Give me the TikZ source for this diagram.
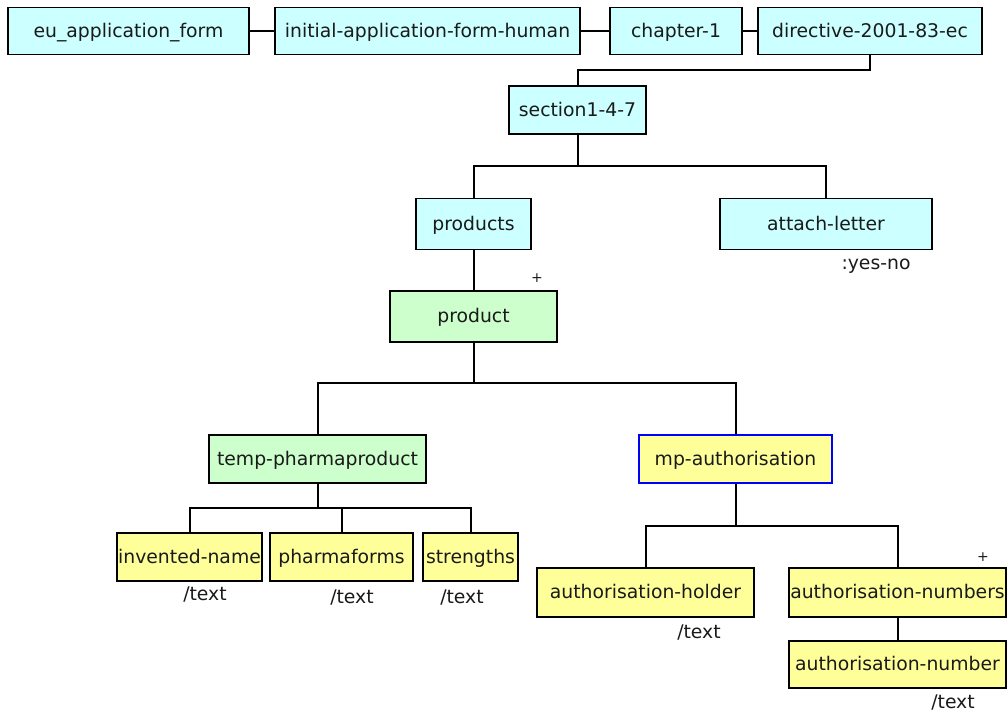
\documentclass[tikz,border=0pt]{standalone}
\usepackage{fontspec}
\setmainfont{DejaVu Sans}
\definecolor{boxcyan}{HTML}{CCFFFF}
\definecolor{boxgreen}{HTML}{CCFFCC}
\definecolor{boxyellow}{HTML}{FFFF99}
\definecolor{ink}{HTML}{1A1A1A}
\begin{document}
\begin{tikzpicture}[x=1pt,y=-1pt,
  every node/.style={font=\fontsize{18.8}{22}\selectfont, text=ink},
  elem/.style={draw=black, line width=1.8pt, inner sep=0pt, align=center,
    text height=16pt, text depth=4pt},
  cyanbox/.style={elem, fill=boxcyan},
  greenbox/.style={elem, fill=boxgreen},
  yellowbox/.style={elem, fill=boxyellow},
  chosenbox/.style={elem, fill=boxyellow, draw=blue, line width=1.5pt},
  link/.style={draw=black, line width=2pt},
  typelabel/.style={inner sep=0pt},
  repeatmark/.style={inner sep=0pt, font=\fontsize{14}{15}\selectfont}]
\useasboundingbox (0,0) rectangle (1008,716);

% junction points of the tree
\coordinate (j0) at (870,70);
\coordinate (j1) at (577.5,166);
\coordinate (j2) at (473.5,383);
\coordinate (j3) at (317.5,508);
\coordinate (j4) at (735.5,526);

% top row of the path
\node[cyanbox, minimum width=241pt, minimum height=47pt] (eu) at (128.5,31) {eu\_application\_form};
\node[cyanbox, minimum width=305pt, minimum height=47pt] (initial) at (427.5,31) {initial-application-form-human};
\node[cyanbox, minimum width=132pt, minimum height=47pt] (chapter) at (676,31) {chapter-1};
\node[cyanbox, minimum width=224pt, minimum height=47pt] (directive) at (870,31) {directive-2001-83-ec};

% section level
\node[cyanbox, minimum width=137pt, minimum height=48pt] (section) at (577.5,110) {section1-4-7};
\node[cyanbox, minimum width=115pt, minimum height=51pt] (products) at (473.5,224) {products};
\node[cyanbox, minimum width=212pt, minimum height=51pt] (attach) at (826,224) {attach-letter};
\node[typelabel] (attachtype) at (876,266) {:yes-no};

% product
\node[greenbox, minimum width=167pt, minimum height=51pt] (product) at (473.5,316.5) {product};
\node[repeatmark] (productplus) at (537,278) {+};

% children of product
\node[greenbox, minimum width=217pt, minimum height=48pt] (temp) at (317.5,459) {temp-pharmaproduct};
\node[chosenbox, minimum width=193pt, minimum height=48pt] (mp) at (735.5,459) {mp-authorisation};

% leaves of temp-pharmaproduct
\node[yellowbox, minimum width=145pt, minimum height=48pt] (invented) at (189.5,557) {invented-name};
\node[yellowbox, minimum width=143pt, minimum height=48pt] (pharmaforms) at (341.5,557) {pharmaforms};
\node[yellowbox, minimum width=95pt, minimum height=48pt] (strengths) at (470.5,557) {strengths};
\node[typelabel] (inventedtype) at (205,595) {/text};
\node[typelabel] (pharmaformstype) at (352,598) {/text};
\node[typelabel] (strengthstype) at (462,598) {/text};

% children of mp-authorisation
\node[yellowbox, minimum width=217pt, minimum height=49pt] (holder) at (645.5,592.5) {authorisation-holder};
\node[yellowbox, minimum width=217pt, minimum height=49pt] (numbers) at (897.5,592.5) {authorisation-numbers};
\node[yellowbox, minimum width=217pt, minimum height=47pt] (number) at (897.5,664.5) {authorisation-number};
\node[repeatmark] (numbersplus) at (983,557) {+};
\node[typelabel] (holdertype) at (699,633) {/text};
\node[typelabel] (numbertype) at (953,703) {/text};

% connectors between the boxes
\draw[link] (eu.east) -- (initial.west);
\draw[link] (initial.east) -- (chapter.west);
\draw[link] (chapter.east) -- (directive.west);
\draw[link] (directive.south) -- (j0) -| (section.north);
\draw[link] (section.south) -- (j1);
\draw[link] (products.north) |- (j1) -| (attach.north);
\draw[link] (products.south) -- (product.north);
\draw[link] (product.south) -- (j2);
\draw[link] (temp.north) |- (j2) -| (mp.north);
\draw[link] (temp.south) -- (j3);
\draw[link] (invented.north) |- (j3) -| (strengths.north);
\draw[link] (j3 -| pharmaforms.north) -- (pharmaforms.north);
\draw[link] (mp.south) -- (j4);
\draw[link] (holder.north) |- (j4) -| (numbers.north);
\draw[link] (numbers.south) -- (number.north);
\end{tikzpicture}
\end{document}
